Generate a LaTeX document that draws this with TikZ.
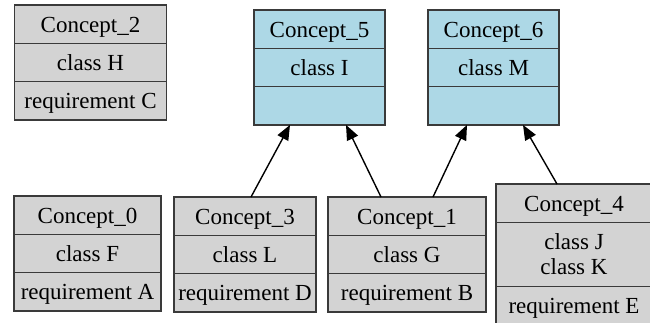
\documentclass[tikz,border=0pt]{standalone}
\usepackage{fontspec}
\setmainfont{LiberationSerif}[Extension=.ttf, UprightFont=*-Regular, BoldFont=*-Bold]
\usepackage{tikz}
\usetikzlibrary{positioning}
\usetikzlibrary{shapes}
\usetikzlibrary{arrows.meta}
\usepackage{xcolor}
\definecolor{cgrey}{HTML}{D3D3D3}
\definecolor{cblue}{HTML}{ADD8E6}
\definecolor{edge}{HTML}{3A3A3A}

\begin{document}
\begin{tikzpicture}[x=1pt, y=-1pt,
        every node/.style={font=\rmfamily\fontsize{23}{25}\selectfont},
        g/.style={rectangle, draw=edge, fill=cgrey, line width=1.2pt, inner sep=0pt, outer sep=0pt,
                  minimum height=38.3pt, text height=16pt, text depth=0pt},
        b/.style={g, fill=cblue},
        arr/.style={line width=1.4pt, -{Triangle[length=15pt, width=12pt]}}]
        \useasboundingbox (0,0) rectangle (650,322);

        % top row
        \node[g, minimum width=152, anchor=north] (c2) at (90.5,5) {Concept\_2};
        \node[g, minimum width=152] (c2cls) [below=0pt of c2] {class H};
        \node[g, minimum width=152] (c2req) [below=0pt of c2cls] {requirement C};

        \node[b, minimum width=131, anchor=north] (c5) at (319.5,10) {Concept\_5};
        \node[b, minimum width=131] (c5cls) [below=0pt of c5] {class I};
        \node[b, minimum width=131] (c5req) [below=0pt of c5cls] {};

        \node[b, minimum width=131, anchor=north] (c6) at (493.5,10) {Concept\_6};
        \node[b, minimum width=131] (c6cls) [below=0pt of c6] {class M};
        \node[b, minimum width=131] (c6req) [below=0pt of c6cls] {};

        % bottom row
        \node[g, minimum width=147, anchor=north] (c0) at (87.5,196) {Concept\_0};
        \node[g, minimum width=147] (c0cls) [below=0pt of c0] {class F};
        \node[g, minimum width=147] (c0req) [below=0pt of c0cls] {requirement A};

        \node[g, minimum width=142, anchor=north] (c3) at (245,197) {Concept\_3};
        \node[g, minimum width=142] (c3cls) [below=0pt of c3] {class L};
        \node[g, minimum width=142] (c3req) [below=0pt of c3cls] {requirement D};

        \node[g, minimum width=158, anchor=north] (c1) at (407,197) {Concept\_1};
        \node[g, minimum width=158] (c1cls) [below=0pt of c1] {class G};
        \node[g, minimum width=158] (c1req) [below=0pt of c1cls] {requirement B};

        \node[g, minimum width=156, anchor=north] (c4) at (574,184) {Concept\_4};
        \node[g, minimum width=156, minimum height=64, text height=, text depth=, align=center]
            (c4cls) [below=0pt of c4] {class J\\class K};
        \node[g, minimum width=156] (c4req) [below=0pt of c4cls] {requirement E};

        \draw[arr] ([xshift=6]c3.north) -- ([xshift=-29.5]c5req.south);
        \draw[arr] ([xshift=-26]c1.north) -- ([xshift=26.5]c5req.south);
        \draw[arr] ([xshift=26]c1.north) -- ([xshift=-26.5]c6req.south);
        \draw[arr] ([xshift=-17]c4.north) -- ([xshift=29.5]c6req.south);
    \end{tikzpicture}
\end{document}
